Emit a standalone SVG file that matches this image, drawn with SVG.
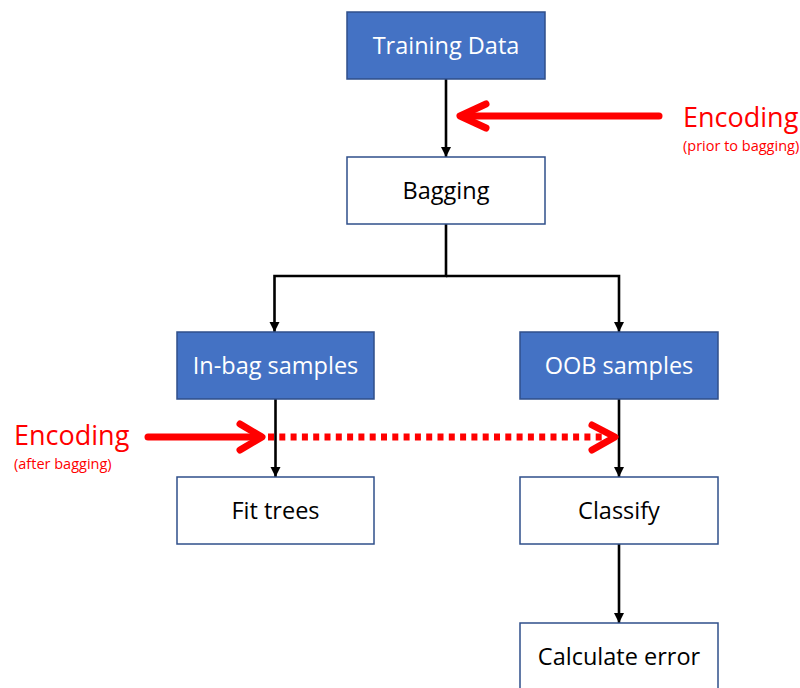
<svg xmlns="http://www.w3.org/2000/svg" width="800" height="688" viewBox="0 0 800 688">
  <style>
    .box rect { stroke: #2F4F8A; stroke-width: 1.5; }
    .blue rect { fill: #4472C4; }
    .white rect { fill: #FFFFFF; }
    .box text { font-family: "Open Sans", "Liberation Sans", sans-serif; font-size: 23.5px; text-anchor: middle; }
    .blue text { fill: #FFFFFF; }
    .white text { fill: #000000; }
    .link { fill: none; stroke: #000000; stroke-width: 2.6; }
    .enc { fill: none; stroke: #FF0000; stroke-width: 7; stroke-linecap: round; stroke-linejoin: round; }
    .encLabel { font-family: "Open Sans", "Liberation Sans", sans-serif; fill: #FF0000; }
  </style>
  <defs>
    <marker id="tri" viewBox="0 0 10 10" refX="10" refY="5" markerWidth="4" markerHeight="4" orient="auto" markerUnits="strokeWidth">
      <path d="M0,0 L10,5 L0,10 Z" fill="#000000"/>
    </marker>
  </defs>

  <rect width="800" height="688" fill="#FFFFFF"/>

  <!-- connectors -->
  <g id="connectors">
    <path class="link" d="M446,79 V157" marker-end="url(#tri)"/>
    <path class="link" d="M446,224 V276 H274.5 V332" marker-end="url(#tri)"/>
    <path class="link" d="M446,276 H619 V332" marker-end="url(#tri)"/>
    <path class="link" d="M275.5,399 V477" marker-end="url(#tri)"/>
    <path class="link" d="M619,399 V477" marker-end="url(#tri)"/>
    <path class="link" d="M619,544 V623" marker-end="url(#tri)"/>
  </g>

  <!-- nodes -->
  <g id="training-data" class="box blue">
    <rect x="347" y="12" width="198" height="67"/>
    <text x="446" y="54">Training Data</text>
  </g>
  <g id="bagging" class="box white">
    <rect x="347" y="157" width="198" height="67"/>
    <text x="446" y="199">Bagging</text>
  </g>
  <g id="in-bag" class="box blue">
    <rect x="177" y="332" width="197" height="67"/>
    <text x="275.5" y="374">In-bag samples</text>
  </g>
  <g id="oob" class="box blue">
    <rect x="520" y="332" width="198" height="67"/>
    <text x="619" y="374">OOB samples</text>
  </g>
  <g id="fit-trees" class="box white">
    <rect x="177" y="477" width="197" height="67"/>
    <text x="275.5" y="519">Fit trees</text>
  </g>
  <g id="classify" class="box white">
    <rect x="520" y="477" width="198" height="67"/>
    <text x="619" y="519">Classify</text>
  </g>
  <g id="calculate-error" class="box white">
    <rect x="520" y="623" width="198" height="67"/>
    <text x="619" y="665">Calculate error</text>
  </g>

  <!-- encoding before bagging -->
  <g id="encoding-prior">
    <path class="enc" d="M659,116 H462"/>
    <path class="enc" d="M486,104 L460,116 L486,128"/>
    <text class="encLabel" x="683" y="127" font-size="27">Encoding</text>
    <text class="encLabel" x="683" y="151" font-size="14.5">(prior to bagging)</text>
  </g>

  <!-- encoding after bagging -->
  <g id="encoding-after">
    <path class="enc" d="M148,437 H258"/>
    <path class="enc" d="M240,424 L262,437 L240,450"/>
    <path d="M268,437 H606" fill="none" stroke="#FF0000" stroke-width="7" stroke-dasharray="6 5.3"/>
    <path class="enc" d="M592,425 L615,437 L592,450"/>
    <text class="encLabel" x="14" y="445" font-size="27">Encoding</text>
    <text class="encLabel" x="14" y="469" font-size="14.5">(after bagging)</text>
  </g>
</svg>
